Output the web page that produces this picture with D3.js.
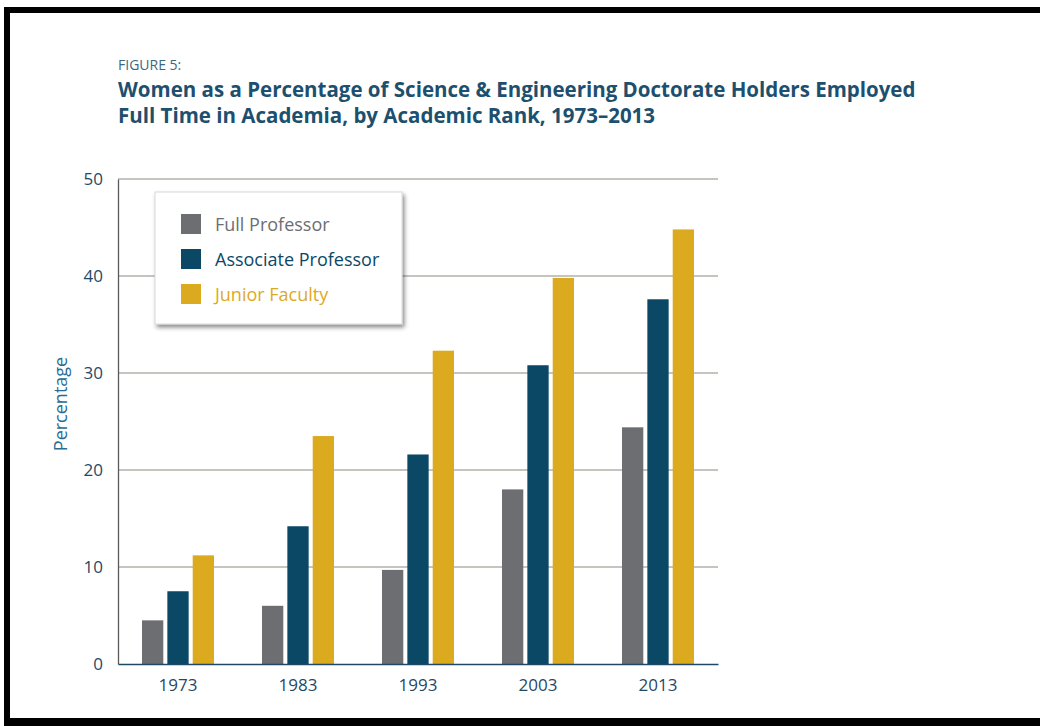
<!DOCTYPE html>
<html>
<head>
<meta charset="utf-8">
<script src="https://cdn.jsdelivr.net/npm/d3@7"></script>
<style>
  body { margin: 0; background: #fff; }
  svg { display: block; font-family: "Open Sans", "Noto Sans", sans-serif; }
</style>
</head>
<body>
<svg></svg>
<script>
const years = ["1973", "1983", "1993", "2003", "2013"];
const seriesNames = ["Full Professor", "Associate Professor", "Junior Faculty"];
const fullProfessor = [4.5, 6.0, 9.7, 18.0, 24.4];
const associateProfessor = [7.5, 14.2, 21.6, 30.8, 37.6];
const juniorFaculty = [11.2, 23.5, 32.3, 39.8, 44.8];
const yTicks = [0, 10, 20, 30, 40, 50];
const colors = ["#6d6e71", "#0b4866", "#dcaa1f"];

const w = 1040;
const h = 726;
const plotLeft = 118, plotRight = 718, plotTop = 179, plotBottom = 664;

const svg = d3.select("svg").attr("width", w).attr("height", h);

// drop shadow for legend box
const defs = svg.append("defs");
const shadow = defs.append("filter").attr("id", "shadow").attr("x", "-10%").attr("y", "-10%").attr("width", "125%").attr("height", "130%");
shadow.append("feDropShadow").attr("dx", 2).attr("dy", 3).attr("stdDeviation", 2).attr("flood-color", "#000").attr("flood-opacity", 0.45);

// black frame (left, top, bottom)
svg.append("rect").attr("x", 4).attr("y", 7).attr("width", w - 4).attr("height", 6).attr("fill", "#000");
svg.append("rect").attr("x", 4).attr("y", 7).attr("width", 6).attr("height", 718 - 7).attr("fill", "#000");
svg.append("rect").attr("x", 4).attr("y", 718).attr("width", w - 4).attr("height", 8).attr("fill", "#000");

// titles
svg.append("text").attr("x", plotLeft).attr("y", 70).text("FIGURE 5:")
  .attr("font-size", 14).attr("fill", "#3a6880");
svg.append("text").attr("x", plotLeft).attr("y", 97)
  .text("Women as a Percentage of Science & Engineering Doctorate Holders Employed")
  .attr("font-size", 20.5).attr("font-weight", "bold").attr("fill", "#1d4f6e");
svg.append("text").attr("x", plotLeft).attr("y", 123)
  .text("Full Time in Academia, by Academic Rank, 1973\u20132013")
  .attr("font-size", 20.5).attr("font-weight", "bold").attr("fill", "#1d4f6e");

const data = years.map((year, i) => ({
  year: year,
  values: [fullProfessor[i], associateProfessor[i], juniorFaculty[i]]
}));

const xScale = d3.scaleBand().domain(years).range([plotLeft, plotRight]).paddingInner(0.4).paddingOuter(0.2);
const xInner = d3.scaleBand().domain(d3.range(3)).range([0, xScale.bandwidth()]).paddingInner(0.16);
const yScale = d3.scaleLinear().domain([0, 50]).range([plotBottom, plotTop]);

// gridlines
svg.append("g").selectAll("line").data(yTicks.filter(d => d > 0)).enter().append("line")
  .attr("x1", plotLeft).attr("x2", plotRight)
  .attr("y1", d => yScale(d)).attr("y2", d => yScale(d))
  .attr("stroke", "#8c8c80").attr("stroke-width", 1.2);

// y axis
const axisY = d3.axisLeft(yScale).tickValues(yTicks).tickSize(0).tickPadding(15);
const gy = svg.append("g").attr("transform", "translate(" + plotLeft + ",0)").call(axisY);
gy.select(".domain").attr("stroke", "#5a5a5a").attr("stroke-width", 1.3);
gy.selectAll("text").attr("font-size", 17).attr("fill", "#1f4a66").attr("font-family", "'Open Sans', sans-serif");

// bars
const groups = svg.append("g").selectAll("g").data(data).enter().append("g")
  .attr("transform", d => "translate(" + xScale(d.year) + ",0)");
groups.selectAll("rect").data(d => d.values).enter().append("rect")
  .attr("x", (d, i) => xInner(i))
  .attr("width", xInner.bandwidth())
  .attr("y", d => yScale(d))
  .attr("height", d => plotBottom - yScale(d))
  .attr("fill", (d, i) => colors[i]);

// x axis
const axisX = d3.axisBottom(xScale).tickSize(0).tickPadding(15);
const gx = svg.append("g").attr("transform", "translate(0," + plotBottom + ")").call(axisX);
gx.select(".domain").attr("stroke", "#1f4a66").attr("stroke-width", 1.6);
gx.selectAll("text").attr("font-size", 17).attr("fill", "#1f4a66").attr("font-family", "'Open Sans', sans-serif");

// y label
svg.append("text").attr("transform", "translate(67,404) rotate(-90)")
  .attr("text-anchor", "middle").text("Percentage")
  .attr("font-size", 18).attr("fill", "#2a6c92");

// legend
const legend = svg.append("g").attr("transform", "translate(155,192)");
legend.append("rect").attr("width", 247).attr("height", 132).attr("fill", "#fff")
  .attr("stroke", "#d8d8d8").attr("filter", "url(#shadow)");
const items = legend.selectAll("g").data(seriesNames).enter().append("g")
  .attr("transform", (d, i) => "translate(26," + (22 + i * 35) + ")");
items.append("rect").attr("width", 20).attr("height", 20).attr("fill", (d, i) => colors[i]);
items.append("text").attr("x", 34).attr("y", 17).text(d => d)
  .attr("font-size", 18).attr("fill", (d, i) => colors[i]);
</script>
</body>
</html>
